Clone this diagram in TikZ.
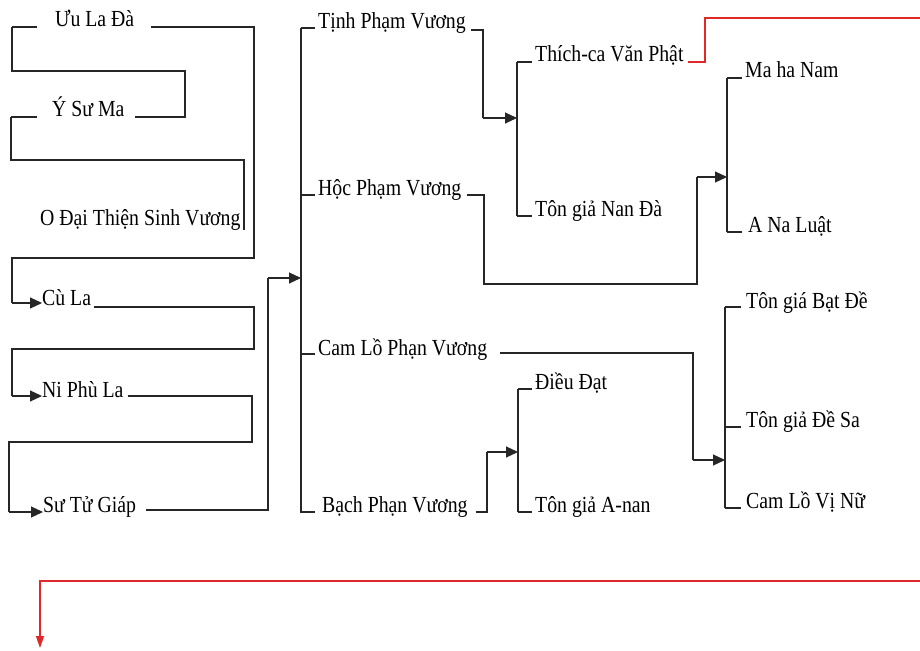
\documentclass[tikz,border=0pt]{standalone}
\usepackage{fontspec}
\setmainfont[FakeStretch=0.86]{Liberation Serif}
\usetikzlibrary{arrows.meta}
\definecolor{redline}{HTML}{E02828}
\begin{document}
\begin{tikzpicture}[x=1pt,y=-1pt,
  lbl/.style={anchor=base west,inner sep=0pt,font=\fontsize{23}{25}\selectfont},
  ln/.style={line width=1.2pt,black!85},
  arr/.style={line width=1.2pt,black!85,-{Triangle[length=12pt,width=11pt]}},
  redln/.style={line width=1.3pt,redline},
  redarr/.style={line width=1.3pt,redline,-{Triangle[length=12pt,width=8pt]}}]
\useasboundingbox[fill=white] (0,0) rectangle (920,650);
% ---- left column texts
\node[lbl] (ula) at (55,27) {Ưu La Đà};
\node[lbl] (ysm) at (52,117) {Ý Sư Ma};
\node[lbl] (odt) at (40,225) {O Đại Thiện Sinh Vương};
\node[lbl] (cul) at (42,305) {Cù La};
\node[lbl] (npl) at (42,397) {Ni Phù La};
\node[lbl] (stg) at (43,512) {Sư Tử Giáp};
% ---- second column
\node[lbl] (tpv) at (318,29) {Tịnh Phạm Vương};
\node[lbl] (hpv) at (318,195) {Hộc Phạm Vương};
\node[lbl] (clp) at (318,355) {Cam Lồ Phạn Vương};
\node[lbl] (bpv) at (322,512) {Bạch Phạn Vương};
% ---- third column
\node[lbl] (tcv) at (535,62) {Thích-ca Văn Phật};
\node[lbl] (nda) at (535,216) {Tôn giả Nan Đà};
\node[lbl] (ddt) at (535,389) {Điều Đạt};
\node[lbl] (anan) at (535,512) {Tôn giả A-nan};
% ---- fourth column
\node[lbl] (mhn) at (745,78) {Ma ha Nam};
\node[lbl] (anl) at (748,232) {A Na Luật};
\node[lbl] (bde) at (746,308) {Tôn giá Bạt Đề};
\node[lbl] (dsa) at (746,427) {Tôn giả Đề Sa};
\node[lbl] (vnu) at (746,508) {Cam Lồ Vị Nữ};
% ---- joints
\coordinate (j1) at (301,278);
\coordinate (j2) at (517,118);
\coordinate (j3) at (727,177);
\coordinate (j4) at (725,460);
\coordinate (j5) at (518,452);
\coordinate (redend) at (40,648);
% ---- left column connectors
\draw[ln] (12,27) -- (37,27);
\draw[ln] (ula.base east) ++(17,0) -- (254,27) -- (254,258) -- (12,258) -- (12,303);
\draw[arr] (12,303) -- (cul.base west |- 0,303);
\draw[ln] (12,27) -- (12,71) -- (185,71) -- (185,117) -- (135,117);
\draw[ln] (11,117) -- (37,117);
\draw[ln] (11,117) -- (11,160) -- (244,160) -- (244,230);
\draw[ln] (cul.base east) ++(3,2) -- (254,307) -- (254,349) -- (12,349) -- (12,396);
\draw[arr] (12,396) -- (npl.base west |- 0,396);
\draw[ln] (npl.base east) ++(4,-1) -- (252,396) -- (252,442) -- (9,442) -- (9,512);
\draw[arr] (9,512) -- (stg.base west |- 0,512);
\draw[ln] (stg.base east) ++(10,-2) -- (268,510) -- (268,278);
\draw[arr] (268,278) -- (j1);
% ---- second column bracket
\draw[ln] (301,28) -- (301,513);
\foreach \n/\y in {tpv/28,hpv/195,clp/354,bpv/512}
  \draw[ln] (301,\y) -- (315,\y);
\draw[ln] (tpv.base east) ++(5,1) -- (483,30) -- (483,118);
\draw[arr] (483,118) -- (j2);
\draw[ln] (hpv.base east) ++(5,0) -- (484,195) -- (484,284) -- (697,284) -- (697,177);
\draw[arr] (697,177) -- (j3);
\draw[ln] (clp.base east) ++(13,-2) -- (693,353) -- (693,460);
\draw[arr] (693,460) -- (j4);
\draw[ln] (bpv.base east) ++(8,0) -- (487,512) -- (487,452);
\draw[arr] (487,452) -- (j5);
% ---- third column brackets
\draw[ln] (517,62) -- (517,216);
\draw[ln] (517,62) -- (532,62);
\draw[ln] (517,216) -- (532,216);
\draw[ln] (518,389) -- (518,512);
\draw[ln] (518,389) -- (532,389);
\draw[ln] (518,512) -- (532,512);
% ---- fourth column brackets
\draw[ln] (727,78) -- (727,232);
\draw[ln] (727,78) -- (742,78);
\draw[ln] (727,232) -- (742,232);
\draw[ln] (725,307) -- (725,508);
\foreach \y in {307,427,508}
  \draw[ln] (725,\y) -- (741,\y);
% ---- red continuation
\draw[redln] (688,62) -- (705,62) -- (705,18) -- (920,18);
\draw[redarr] (920,581) -- (40,581) -- (redend);
\end{tikzpicture}
\end{document}
